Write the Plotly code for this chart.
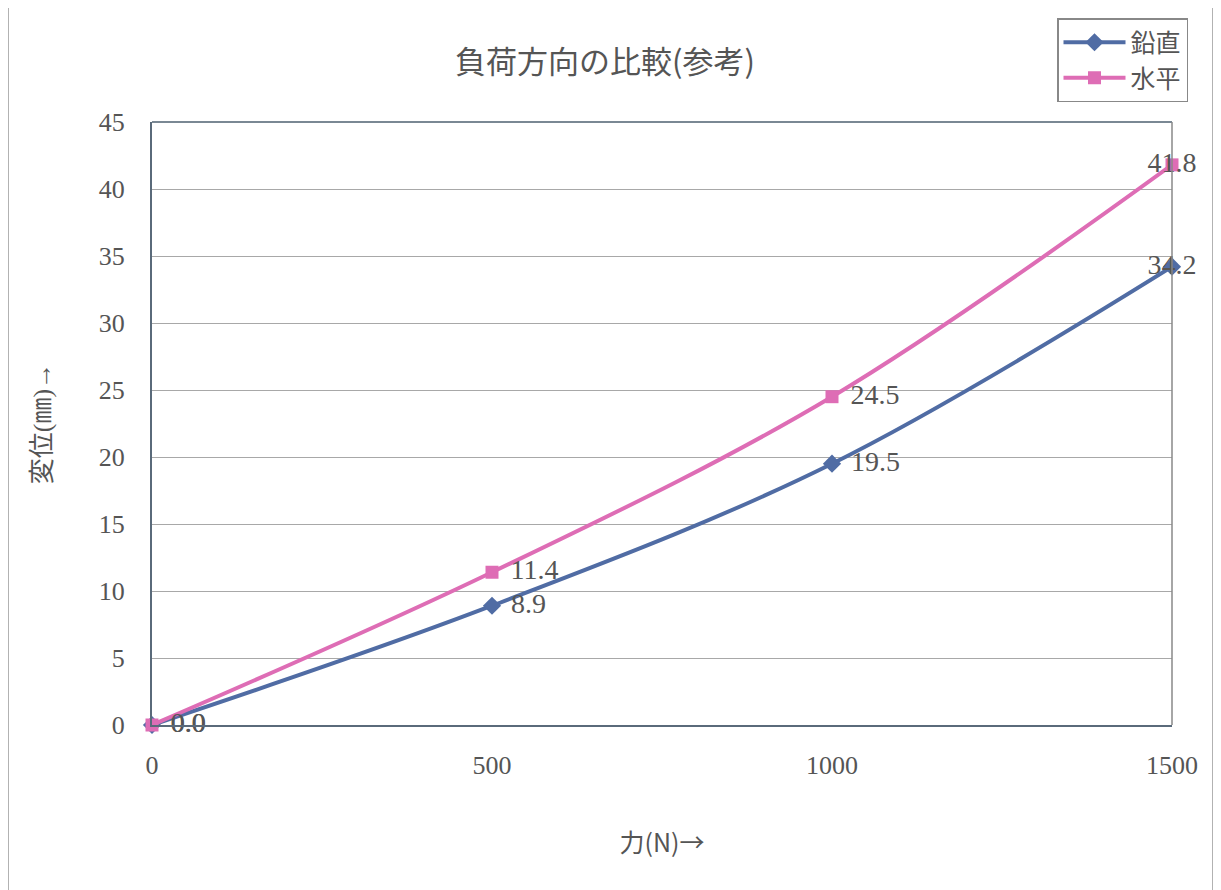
import plotly.graph_objects as go

forces = [0, 500, 1000, 1500]
vertical = [0.0, 8.9, 19.5, 34.2]
horizontal = [0.0, 11.4, 24.5, 41.8]
series_names = ["鉛直", "水平"]
title_text = "負荷方向の比較(参考)"
x_title = "力(N)→"
y_title = "変位(㎜)→"

SERIF = "Liberation Serif, DejaVu Serif, serif"
CJK = "Noto Sans CJK JP, sans-serif"

# figure size (page adds ~8px body margin)
W, H = 1213, 882
L, R, T, B = 144, 1164, 114, 717  # plot area in figure px
PW, PH = R - L, B - T

def px_x(x):
    return (x - L) / PW

def px_y(y):
    return (B - y) / PH

label_pos = ["middle right", "middle right", "middle right", "middle center"]

def labels(vals):
    return [("\u2004" if p != "middle center" else "") + f"{v:.1f}" for v, p in zip(vals, label_pos)]

fig = go.Figure()
fig.add_trace(go.Scatter(
    x=forces, y=vertical, name=series_names[0], mode="lines+markers+text",
    line=dict(color="#506ca4", width=4, shape="spline", smoothing=1.0),
    marker=dict(symbol="diamond", size=14, color="#506ca4"),
    text=labels(vertical), textposition=label_pos,
    textfont=dict(family=SERIF, size=28, color="#555555"),
    cliponaxis=False,
))
fig.add_trace(go.Scatter(
    x=forces, y=horizontal, name=series_names[1], mode="lines+markers+text",
    line=dict(color="#de6db5", width=4, shape="spline", smoothing=1.0),
    marker=dict(symbol="square", size=13, color="#de6db5"),
    text=labels(horizontal), textposition=label_pos,
    textfont=dict(family=SERIF, size=28, color="#555555"),
    cliponaxis=False,
))

fig.update_layout(
    width=W, height=H,
    paper_bgcolor="white", plot_bgcolor="white",
    margin=dict(l=L, r=W - R, t=T, b=H - B, autoexpand=False),
    title=dict(text=title_text, x=597 / W, xanchor="center", y=1 - 54 / H, yanchor="middle",
               font=dict(family=CJK, size=31, color="#555555")),
    legend=dict(x=px_x(1049), xanchor="left", y=px_y(10), yanchor="top",
                bordercolor="#888888", borderwidth=1.5, bgcolor="white",
                font=dict(family=CJK, size=25, color="#555555"),
                itemwidth=62, tracegroupgap=0),
    xaxis=dict(range=[0, 1500], tickvals=forces, ticktext=[str(f) for f in forces],
               showgrid=False, zeroline=False, showline=True, linecolor="#5a6a7a", linewidth=2,
               ticks="", ticklabelstandoff=16,
               tickfont=dict(family=SERIF, size=26, color="#555555"),
               title=dict(text=x_title, font=dict(family=CJK, size=25, color="#555555"), standoff=55)),
    yaxis=dict(range=[0, 45], dtick=5, showgrid=True, gridcolor="#a8a8a8", gridwidth=1,
               zeroline=False, showline=True, linecolor="#5a6a7a", linewidth=2,
               ticks="", ticklabelstandoff=20,
               tickfont=dict(family=SERIF, size=26, color="#555555"),
               title=dict(text=y_title, font=dict(family=SERIF + ", Noto Sans CJK JP", size=26, color="#555555"),
                          standoff=40)),
    showlegend=True,
)

# plot frame top and right
fig.add_shape(type="line", xref="paper", yref="paper", x0=0, x1=1, y0=1, y1=1,
              line=dict(color="#7a8894", width=2))
fig.add_shape(type="line", xref="paper", yref="paper", x0=1, x1=1, y0=0, y1=1,
              line=dict(color="#888888", width=1.5))
# outer chart border (left and right)
for bx in (0, 1205):
    fig.add_shape(type="line", xref="paper", yref="paper",
                  x0=px_x(bx), x1=px_x(bx), y0=px_y(H), y1=px_y(0),
                  line=dict(color="#999999", width=1.5))

fig.write_html("out.html")
